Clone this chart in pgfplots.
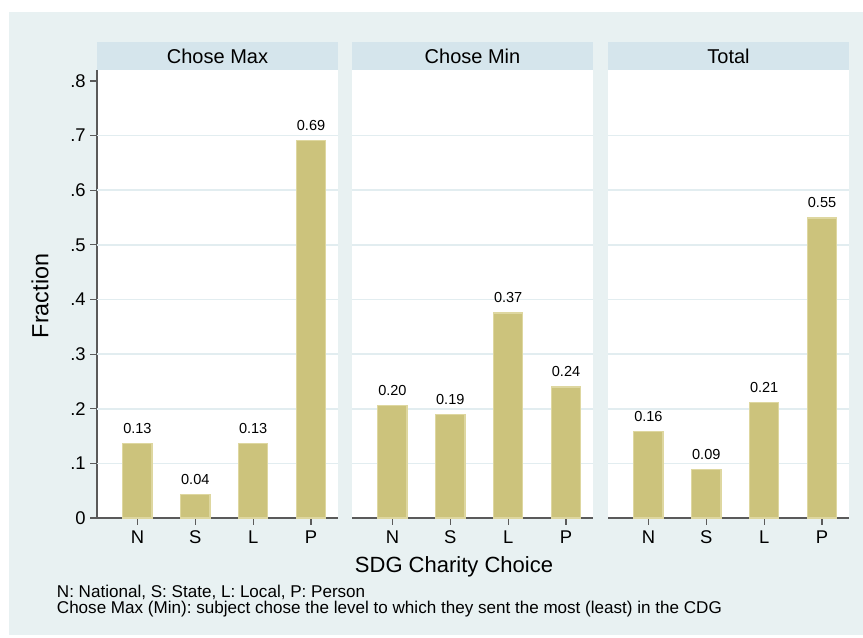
\documentclass[border=0pt]{standalone}
\usepackage{fontspec}
\setmainfont{Liberation Sans}
\usepackage{pgfplots}
\usepackage{pgfplotstable}
\pgfplotsset{compat=1.18}
\definecolor{bgc}{RGB}{232,241,242}
\definecolor{hdr}{RGB}{213,229,236}
\definecolor{gridc}{RGB}{226,237,240}
\definecolor{axc}{RGB}{90,90,90}
\definecolor{barf}{RGB}{204,195,124}
\definecolor{bare}{RGB}{222,215,160}
\frenchspacing

\pgfplotstableread{
x y lab
1 0.136 0.13
2 0.043 0.04
3 0.136 0.13
4 0.691 0.69
}\maxdata
\pgfplotstableread{
x y lab
1 0.206 0.20
2 0.189 0.19
3 0.375 0.37
4 0.240 0.24
}\mindata
\pgfplotstableread{
x y lab
1 0.158 0.16
2 0.089 0.09
3 0.212 0.21
4 0.549 0.55
}\totdata

\pgfplotsset{
  panel/.style={
    scale only axis,
    width=180.75pt, height=336pt,
    xmin=0.302, xmax=4.466,
    ymin=0, ymax=0.820,
    axis x line*=bottom, axis y line*=left,
    axis line style={draw=axc, line width=1.1pt},
    every tick/.style={draw=axc, line width=0.9pt},
    tick align=outside,
    major tick length=5pt,
    xtick={1,2,3,4},
    xticklabels={N,S,L,P},
    xticklabel style={font=\fontsize{13.8}{15}\selectfont, yshift=-1pt},
    ytick={0,0.1,0.2,0.3,0.4,0.5,0.6,0.7,0.8},
    yticklabels={0,.1,.2,.3,.4,.5,.6,.7,.8},
    yticklabel style={font=\fontsize{13.8}{15}\selectfont},
    extra y ticks={0.1,0.2,0.3,0.4,0.5,0.6,0.7},
    extra y tick labels={},
    extra y tick style={ymajorgrids=true, major tick length=0pt, tick style={draw=none}},
    major grid style={draw=gridc, line width=1.3pt},
    axis background/.style={fill=white},
    clip=false,
    ybar, bar width=22pt,
    nodes near coords,
    point meta=explicit symbolic,
    every node near coord/.append style={font=\fontsize{10.9}{12}\selectfont, inner sep=0pt, anchor=south, yshift=7pt, text=black},
  },
  nolefty/.style={
    y axis line style={draw=none},
    ytick style={draw=none},
    yticklabels={},
  },
  bars/.style={fill=barf, draw=bare, line width=1pt},
}

\begin{document}
\begin{tikzpicture}
\path[use as bounding box] (0,0) rectangle (647.25pt,477.75pt);
\fill[bgc] (6.75pt,1.5pt) rectangle (647.25pt,468.75pt);

\begin{axis}[panel, name=p1, at={(72.75pt,89.25pt)}, anchor=south west]
\addplot[bars] table[x=x, y=y, meta=lab] {\maxdata};
\end{axis}

\begin{axis}[panel, nolefty, name=p2, at={(264pt,89.25pt)}, anchor=south west]
\addplot[bars] table[x=x, y=y, meta=lab] {\mindata};
\end{axis}

\begin{axis}[panel, nolefty, name=p3, at={(456pt,89.25pt)}, anchor=south west]
\addplot[bars] table[x=x, y=y, meta=lab] {\totdata};
\end{axis}

\foreach \p/\t in {p1/Chose Max, p2/Chose Min, p3/Total}{
  \fill[hdr] (\p.north west) rectangle ([yshift=21pt]\p.north east);
  \node[font=\fontsize{15}{17}\selectfont, anchor=center] at ([yshift=10.5pt]\p.north) {\t};
}

\node[font=\fontsize{17.5}{19}\selectfont, rotate=90, anchor=center] at (30pt,255.75pt) {Fraction};
\node[font=\fontsize{16.5}{19}\selectfont, anchor=center] at (340.5pt,52.5pt) {SDG Charity Choice};
\node[font=\fontsize{12.8}{12}\selectfont, anchor=north west, align=left, inner sep=0pt] at (42.5pt,39pt)
  {N: National, S: State, L: Local, P: Person\\Chose Max (Min): subject chose the level to which they sent the most (least) in the CDG};
\end{tikzpicture}
\end{document}
